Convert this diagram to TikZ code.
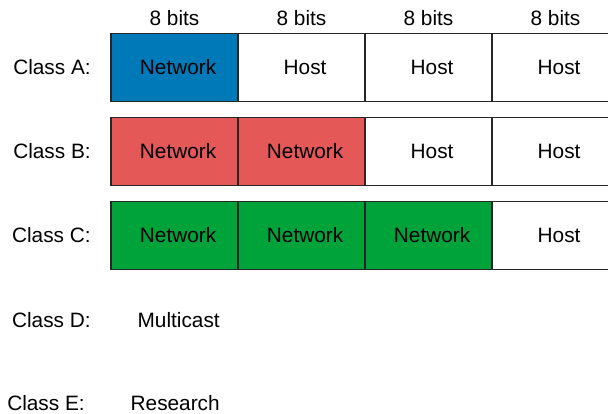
\documentclass[tikz,border=0pt]{standalone}
\usepackage{fontspec}
\setmainfont{Liberation Sans}
\usetikzlibrary{positioning}

\definecolor{netblue}{RGB}{0,121,184}
\definecolor{netred}{RGB}{228,88,88}
\definecolor{netgreen}{RGB}{0,162,58}

\tikzset{field/.style={draw=black!85,line width=0.9pt,minimum width=3.175cm,minimum height=1.7cm,inner sep=0pt,outer sep=0pt,
                       execute at begin node=\hspace*{1.8mm}},
         lbl/.style={inner sep=0pt}}

\begin{document}
\begin{tikzpicture}[node distance=4mm and 0mm,font=\fontsize{14.8}{18}\selectfont]
  \useasboundingbox (0,0) rectangle (15.2,-10.325);
  % class A
  \node[field,fill=netblue] (A1) at (4.3625,-1.6875) {Network};
  \node[field,right=of A1] (A2) {Host};
  \node[field,right=of A2] (A3) {Host};
  \node[field,right=of A3] (A4) {Host};
  % class B
  \node[field,fill=netred,below=of A1] (B1) {Network};
  \node[field,fill=netred,right=of B1] (B2) {Network};
  \node[field,right=of B2] (B3) {Host};
  \node[field,right=of B3] (B4) {Host};
  % class C
  \node[field,fill=netgreen,below=of B1] (C1) {Network};
  \node[field,fill=netgreen,right=of C1] (C2) {Network};
  \node[field,fill=netgreen,right=of C2] (C3) {Network};
  \node[field,right=of C3] (C4) {Host};
  % bits
  \node[lbl,anchor=base] (b1) at ([yshift=1.9mm]A1.north) {8 bits};
  \node[lbl,anchor=base] (b2) at ([yshift=1.9mm]A2.north) {8 bits};
  \node[lbl,anchor=base] (b3) at ([yshift=1.9mm]A3.north) {8 bits};
  \node[lbl,anchor=base] (b4) at ([yshift=1.9mm]A4.north) {8 bits};
  % labels
  \node[lbl,left=5mm of A1] (ca) {Class A:};
  \node[lbl,left=5mm of B1] (cb) {Class B:};
  \node[lbl,left=5mm of C1] (cc) {Class C:};
  \node[lbl,anchor=east] (cd) at (2.275,-8.0) {Class D:};
  \node[lbl,anchor=east] (md) at (5.5,-8.0) {Multicast};
  \node[lbl,anchor=east] (ce) at (2.125,-10.07) {Class E:};
  \node[lbl,anchor=east] (re) at (5.5,-10.07) {Research};
\end{tikzpicture}
\end{document}
